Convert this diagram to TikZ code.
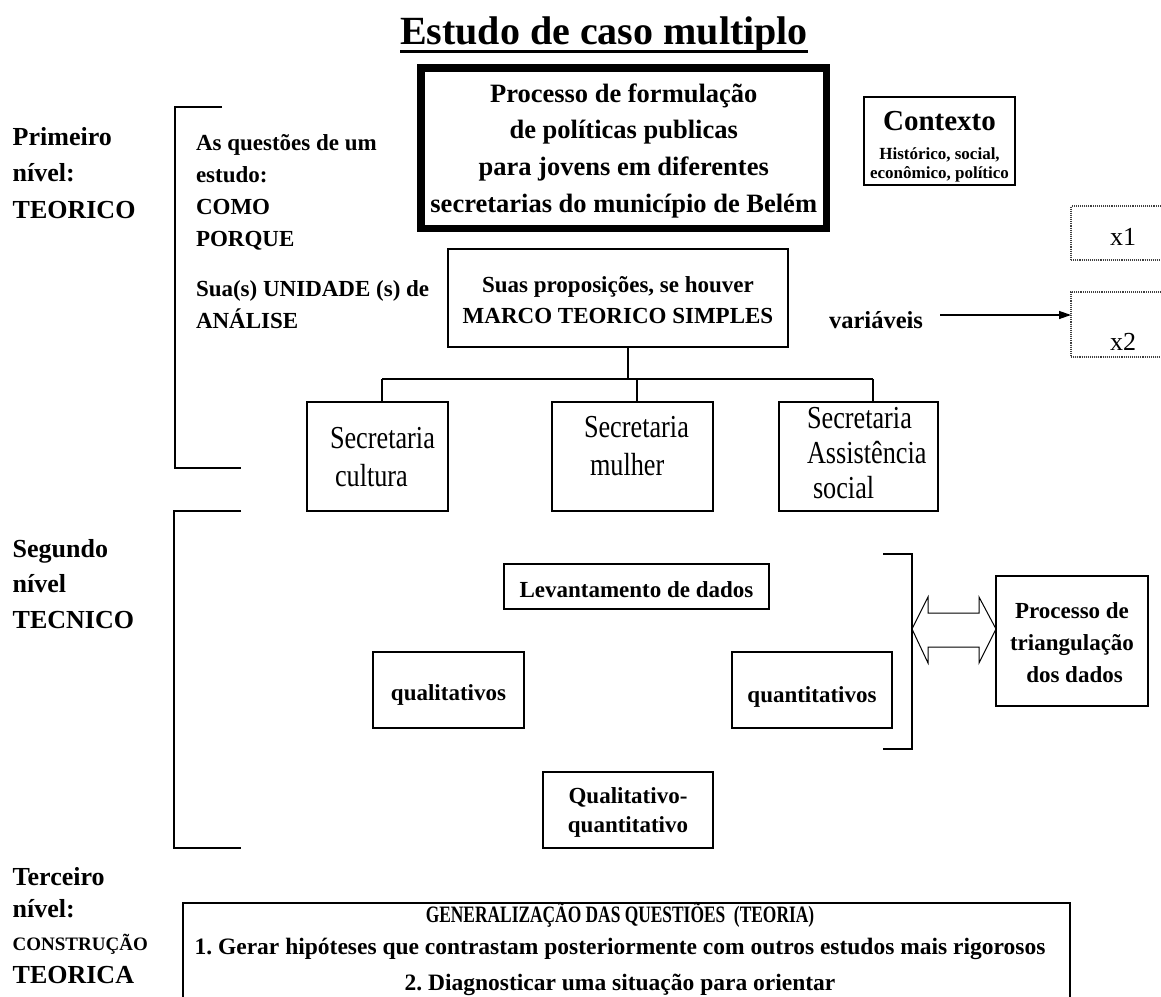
\documentclass[tikz,border=0pt]{standalone}
\usepackage{fontspec}
\setmainfont{Liberation Serif}
\newfontfamily\condf{Liberation Serif}[FakeStretch=0.82]
\usetikzlibrary{arrows.meta,calc}
\frenchspacing
\newcommand{\fs}[2]{\fontsize{#1}{#2}\selectfont}
\newcommand{\tabc}[1]{\begin{tabular}[t]{@{}c@{}}#1\end{tabular}}
\newcommand{\tabl}[1]{\begin{tabular}[t]{@{}l@{}}#1\end{tabular}}
\tikzset{
  box/.style={draw, line width=1.3, inner sep=0, outer sep=0},
  txt/.style={inner sep=0, outer sep=0},
  ln/.style={line width=1.3},
  dotbox/.style={draw=black!75, densely dotted, line width=1.1, inner sep=0, outer sep=0},
}
\begin{document}
\begin{tikzpicture}[x=1pt,y=-1pt,line join=miter]
\useasboundingbox (0,0) rectangle (1161,996);
\clip (0,0) rectangle (1161,996);

% title
\node[txt, anchor=base, font=\fs{40}{48}\bfseries] (title) at (604,44) {Estudo de caso multiplo};
\draw[line width=3] ($(title.base west)+(0,7.5)$) -- ($(title.base east)+(0,7.5)$);

% main box
\node[box, line width=7.5, minimum width=405.5, minimum height=160.5, text height=22, text depth=114,
      font=\fs{26.5}{36.7}\bfseries] (main) at (623.75,148)
  {\tabc{Processo de formulação\\ de políticas publicas\\ para jovens em diferentes\\ secretarias do município de Belém}};

% context
\node[box, minimum width=151, minimum height=88] (ctx) at (939.5,141) {};
\node[txt, anchor=base, font=\fs{29}{31}\bfseries] (ctxA) at (939.5,130) {Contexto};
\node[txt, anchor=base, font=\fs{17}{19}\bfseries] (ctxB) at (939.5,159) {\tabc{Histórico, social,\\ econômico, político}};

% level labels
\node[txt, anchor=base west, font=\fs{26}{36.5}\bfseries] (lv1) at (12.7,145) {\tabl{Primeiro\\ nível:\\ TEORICO}};
\node[txt, anchor=base west, font=\fs{26}{35.5}\bfseries] (lv2) at (12.7,557) {\tabl{Segundo\\ nível\\ TECNICO}};
\node[txt, anchor=base west, font=\fs{26}{32.7}\bfseries] (lv3) at (12.7,885) {\tabl{Terceiro\\ nível:\\ {\fs{19}{22}CONSTRUÇÃO}\\ TEORICA}};

% brackets
\draw[ln] (222,107) -- (175,107) -- (175,468) -- (241,468);
\draw[ln] (241,511) -- (174,511) -- (174,848) -- (241,848);
\draw[ln] (883,554) -- (912,554) -- (912,749) -- (883,749);

% questions
\node[txt, anchor=base west, font=\fs{23}{32.3}\bfseries] (qs) at (196,150)
  {\tabl{As questões de um\\ estudo:\\ COMO\\ PORQUE\\[17pt] Sua(s) UNIDADE (s) de\\ ANÁLISE}};

% propositions
\node[box, minimum width=340, minimum height=98, text height=20, text depth=32,
      font=\fs{23}{31}\bfseries] (suas) at (618,298)
  {\tabc{Suas proposições, se houver\\ MARCO TEORICO SIMPLES}};

% variables
\node[txt, anchor=base, font=\fs{24.5}{28}\bfseries] (var) at (876,328) {variáveis};
\node[dotbox, minimum width=104, minimum height=54, text height=24, text depth=0, font=\fs{26}{28}] (x1) at (1123,233) {x1};
\node[dotbox, minimum width=104, minimum height=65, text height=51, text depth=0, font=\fs{26}{28}] (x2) at (1123,324.5) {x2};
\coordinate (aS) at (940,315);
\draw[ln, -{Triangle[length=12,width=8]}] (aS) -- (aS -| x2.west);

% secretarias
\node[box, minimum width=141, minimum height=109] (cult) at (377.5,456.5) {};
\node[box, minimum width=161, minimum height=109] (mul) at (632.5,456.5) {};
\node[box, minimum width=159, minimum height=109] (asst) at (858.5,456.5) {};
\node[txt, anchor=base west, font=\fs{32}{38}\condf] (cultT) at (330,448) {\tabl{Secretaria\\ \hspace{5pt}cultura}};
\node[txt, anchor=base west, font=\fs{32}{38}\condf] (mulT) at (584,437) {\tabl{Secretaria\\ \hspace{6pt}mulher}};
\node[txt, anchor=base west, font=\fs{32}{35}\condf] (asstT) at (807,428) {\tabl{Secretaria\\ Assistência\\ \hspace{6pt}social}};

% tree
\coordinate (j) at (628,379);
\coordinate (h1) at (382,379);
\coordinate (h2) at (637,379);
\coordinate (h3) at (873,379);
\draw[ln] (j |- suas.south) -- (j);
\draw[ln] (h1) -- (h3);
\draw[ln] (h1) -- (cult.north -| h1);
\draw[ln] (h2) -- (mul.north -| h2);
\draw[ln] (h3) -- (asst.north -| h3);

% second level
\node[box, minimum width=265, minimum height=45, text height=21, text depth=0, font=\fs{23}{26}\bfseries] (lev) at (636.5,586.5) {Levantamento de dados};
\node[box, minimum width=151, minimum height=76, text height=20, text depth=0, font=\fs{23}{26}\bfseries] (quali) at (448.5,690) {qualitativos};
\node[box, minimum width=160, minimum height=76, text height=24, text depth=0, font=\fs{23}{26}\bfseries] (quanti) at (812,690) {quantitativos};
\node[box, minimum width=170, minimum height=76, text height=18, text depth=32, font=\fs{23}{29}\bfseries] (qq) at (628,810) {\tabc{Qualitativo-\\ quantitativo}};
\node[box, minimum width=152, minimum height=130, text height=20, text depth=66, font=\fs{23}{32}\bfseries] (tri) at (1072,641) {\tabc{Processo de\\ triangulação\\ \hspace{5pt}dos dados}};

% hollow double arrow
\draw[line width=1] (912,629) -- (928,597) -- (928,613) -- (979,613) -- (979,597) -- (tri.west |- 0,629)
  -- (979,663) -- (979,647) -- (928,647) -- (928,663) -- cycle;

% third level
\node[box, minimum width=887, minimum height=110] (gen) at (626.5,958) {};
\node[txt, anchor=base, font=\fs{23.5}{32.5}\bfseries] (genT) at (620,922)
  {\tabc{\scalebox{0.74}[1]{GENERALIZAÇÃO DAS QUESTIÕES\ \ (TEORIA)}\\ 1.\ Gerar hipóteses que contrastam posteriormente com outros estudos mais rigorosos\\[3.5pt] 2.\ Diagnosticar uma situação para orientar}};
\end{tikzpicture}
\end{document}
